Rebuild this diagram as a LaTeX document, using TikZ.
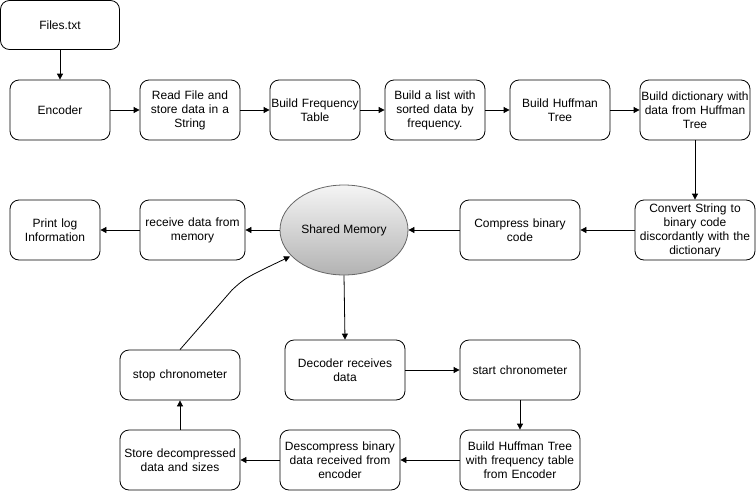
\documentclass[tikz,border=0pt]{standalone}
\usepackage{fontspec}
\setmainfont{Liberation Sans}
\usetikzlibrary{arrows.meta,shapes.geometric}
\begin{document}
\begin{tikzpicture}[x=1pt,y=-1pt,
  box/.style={draw=black,rounded corners=9pt,line width=0.8pt,align=center,inner sep=0pt,font=\fontsize{12}{14}\selectfont},
  arr/.style={-{Triangle[length=6pt,width=6pt]},line width=0.8pt},
  ln/.style={line width=0.8pt}]
\useasboundingbox (0,0) rectangle (756,491);
\newcommand{\bx}[6]{\node[box,minimum width=#4pt,minimum height=#5pt,text width=#4pt] (#1) at (#2,#3) {#6};}
\bx{files}{60}{25}{119}{49}{Files.txt}
\bx{enc}{60}{110}{100}{60}{Encoder}
\bx{read}{190}{110}{100}{60}{Read File and\\store data in a\\String}
\bx{freq}{315}{110}{90}{60}{Build Frequency\\Table}
\bx{list}{435}{110}{100}{60}{Build a list with\\sorted data by\\frequency.}
\bx{huff}{560}{110}{100}{60}{Build Huffman\\Tree}
\bx{dict}{695}{110}{110}{60}{Build dictionary with\\data from Huffman\\Tree}
\bx{conv}{695}{230}{120}{60}{Convert String to\\binary code\\discordantly with the\\dictionary}
\bx{comp}{520}{230}{120}{60}{Compress binary\\code}
\bx{recv}{192.5}{230}{105}{60}{receive data from\\memory}
\bx{print}{55}{230}{90}{60}{Print log\\Information}
\bx{dec}{345}{370}{120}{60}{Decoder receives\\data}
\bx{start}{520}{370}{120}{60}{start chronometer}
\bx{bht}{520}{460}{120}{60}{Build Huffman Tree\\with frequency table\\from Encoder}
\bx{desc}{340}{460}{120}{60}{Descompress binary\\data received from\\encoder}
\bx{store}{180}{460}{120}{60}{Store decompressed\\data and sizes}
\bx{stop}{180}{375}{120}{50}{stop chronometer}
\node[ellipse,draw=black!60,line width=0.8pt,minimum width=128pt,minimum height=90pt,inner sep=0pt,
  top color=black!4,bottom color=black!30,font=\fontsize{12}{14}\selectfont] (mem) at (344,230) {Shared Memory};
\draw[arr] (files) -- (enc);
\draw[arr] (enc) -- (read);
\draw[arr] (read) -- (freq);
\draw[arr] (freq) -- (list);
\draw[arr] (list) -- (huff);
\draw[arr] (huff) -- (dict);
\draw[arr] (dict) -- (conv);
\draw[arr] (conv) -- (comp);
\draw[arr] (comp) -- (mem);
\draw[arr] (mem) -- (recv);
\draw[arr] (recv) -- (print);
\draw[arr] (mem.south) -- (dec.north);
\draw[arr] (dec) -- (start);
\draw[arr] (start) -- (bht);
\draw[arr] (bht) -- (desc);
\draw[arr] (desc) -- (store);
\draw[arr] (store) -- (stop);
\coordinate (bend) at (232,290);
\draw[arr] (stop.north) -- (bend) .. controls (245,278) .. (290,256.5);
\end{tikzpicture}
\end{document}
